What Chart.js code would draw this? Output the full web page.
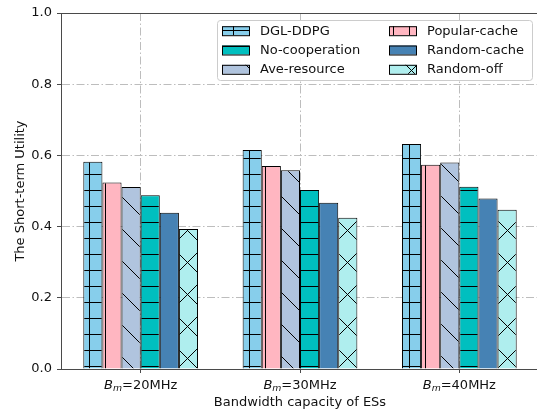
<!DOCTYPE html>
<html>
<head>
<meta charset="utf-8">
<script src="https://cdn.jsdelivr.net/npm/chart.js@4.4.1/dist/chart.umd.min.js"></script>
<style>
  html, body { margin: 0; padding: 0; background: #fff; }
  #wrap { width: 539px; height: 410px; position: relative; }
</style>
</head>
<body>
<div id="wrap"><canvas id="chart"></canvas></div>
<script>
// bandwidth per ES (x categories)
const categories = ['20MHz', '30MHz', '40MHz'];

const dglDdpg = [0.582, 0.615, 0.632];
const popularCache = [0.524, 0.570, 0.574];
const aveResource = [0.511, 0.558, 0.580];
const noCooperation = [0.488, 0.503, 0.512];
const randomCache = [0.439, 0.467, 0.479];
const randomOff = [0.393, 0.425, 0.447];

const seriesNames = ['DGL-DDPG', 'Popular-cache', 'Ave-resource', 'No-cooperation', 'Random-cache', 'Random-off'];
const seriesValues = [dglDdpg, popularCache, aveResource, noCooperation, randomCache, randomOff];
const seriesColors = ['#87ceeb', '#ffb6c1', '#b0c4de', '#00bfbf', '#4682b4', '#afeeee'];
const seriesHatch = ['+', '|', '\\', '-', '', 'x'];

// legend is filled column by column
const legendOrder = ['DGL-DDPG', 'No-cooperation', 'Ave-resource', 'Popular-cache', 'Random-cache', 'Random-off'];

const yTicks = [0, 0.2, 0.4, 0.6, 0.8, 1.0];

const FONT = '"DejaVu Sans", sans-serif';
const canvas = document.getElementById('chart');
const ctx = canvas.getContext('2d');

function hatch(bg, kind) {
  const c = document.createElement('canvas');
  c.width = 32; c.height = 32;
  const g = c.getContext('2d');
  g.fillStyle = bg;
  g.fillRect(0, 0, 32, 32);
  g.strokeStyle = '#000';
  g.lineWidth = 1;
  g.beginPath();
  if (kind === '-' || kind === '+') {
    [14.5, 30.5].forEach(y => { g.moveTo(0, y); g.lineTo(32, y); });
  }
  if (kind === '|' || kind === '+') {
    [9.5, 25.5].forEach(x => { g.moveTo(x, 0); g.lineTo(x, 32); });
  }
  if (kind === '\\' || kind === 'x') {
    const c0 = 21;
    for (let k = -2; k <= 2; k++) { g.moveTo(c0 + 32 * k - 10, -10); g.lineTo(c0 + 32 * k + 42, 42); }
  }
  if (kind === 'x') {
    const d = 2;
    for (let k = -2; k <= 2; k++) { g.moveTo(d + 32 * k + 10, -10); g.lineTo(d + 32 * k - 42, 42); }
  }
  g.stroke();
  return ctx.createPattern(c, 'repeat');
}

const gridDash = [8, 2.5, 1.5, 2.5];
const gridColor = '#bdbdbd';
const axisColor = '#4a4a4a';

const extras = {
  id: 'extras',
  afterDraw(chart) {
    const { ctx: g, chartArea: a, scales: { x } } = chart;
    g.save();
    // the figure is cut just before the right spine
    g.fillStyle = '#fff';
    g.fillRect(537, 0, chart.width - 537, chart.height);
    // top spine
    g.strokeStyle = axisColor;
    g.lineWidth = 1;
    g.beginPath();
    g.moveTo(a.left, a.top + 0.5); g.lineTo(537, a.top + 0.5);
    g.stroke();

    // x tick labels: B_m=..MHz
    g.fillStyle = '#111';
    g.textBaseline = 'alphabetic';
    categories.forEach((cat, i) => {
      const px = x.getPixelForTick(i);
      const parts = [
        { t: 'B', f: 'italic 13px ' + FONT, dy: 0 },
        { t: 'm', f: 'italic 9.3px ' + FONT, dy: 2.5 },
        { t: '=' + cat, f: '13px ' + FONT, dy: 0 }
      ];
      let w = 0;
      parts.forEach(p => { g.font = p.f; p.w = g.measureText(p.t).width; w += p.w; });
      let cx = px - w / 2;
      parts.forEach(p => {
        g.font = p.f;
        g.textAlign = 'left';
        g.fillText(p.t, cx, 388.5 + p.dy);
        cx += p.w;
      });
    });

    // legend
    const box = { x: 217, y: 20, w: 315, h: 60 };
    g.fillStyle = 'rgba(255,255,255,0.9)';
    g.strokeStyle = '#cccccc';
    g.lineWidth = 1;
    g.beginPath();
    g.roundRect(box.x + 0.5, box.y + 0.5, box.w, box.h, 3);
    g.fill();
    g.stroke();
    const rows = [30.7, 50, 69.3];
    const cols = [{ sx: 222, tx: 260 }, { sx: 389, tx: 427 }];
    legendOrder.forEach((name, i) => {
      const ds = chart.data.datasets.find(d => d.label === name);
      const col = cols[Math.floor(i / 3)];
      const cy = rows[i % 3];
      g.fillStyle = ds.backgroundColor;
      g.fillRect(col.sx, cy - 4.5, 27, 9);
      g.strokeStyle = '#000';
      g.lineWidth = 1;
      g.strokeRect(col.sx + 0.5, cy - 4.5 + 0.5, 27, 9);
      g.fillStyle = '#111';
      g.font = '13px ' + FONT;
      g.textAlign = 'left';
      g.textBaseline = 'middle';
      g.fillText(name, col.tx, cy + 0.5);
    });
    g.restore();
  }
};

new Chart(ctx, {
  type: 'bar',
  data: {
    labels: categories,
    datasets: seriesNames.map((name, i) => ({
      label: name,
      data: seriesValues[i],
      backgroundColor: hatch(seriesColors[i], seriesHatch[i]),
      borderColor: '#000',
      borderWidth: 1,
      categoryPercentage: 0.72,
      barPercentage: 1.0
    }))
  },
  options: {
    responsive: true,
    maintainAspectRatio: false,
    animation: false,
    events: [],
    layout: { padding: { top: 13, right: 0, left: 0, bottom: 0 } },
    plugins: { legend: { display: false }, tooltip: { enabled: false } },
    scales: {
      x: {
        grid: { offset: false, color: gridColor, lineWidth: 1, tickLength: 4, tickColor: axisColor, tickWidth: 1 },
        border: { color: axisColor, width: 1, dash: gridDash },
        ticks: { display: false },
        title: { display: true, text: 'Bandwidth capacity of ESs', color: '#111', font: { family: FONT, size: 13 }, padding: 0 },
        afterFit: s => { s.height = 41; }
      },
      y: {
        min: 0,
        max: 1,
        afterBuildTicks: s => { s.ticks = yTicks.map(v => ({ value: v })); },
        grid: {
          color: c => (c.tick && (c.tick.value === 0 || c.tick.value === 1)) ? 'rgba(0,0,0,0)' : gridColor,
          lineWidth: 1, tickLength: 4, tickColor: axisColor, tickWidth: 1
        },
        border: { color: axisColor, width: 1, dash: gridDash },
        ticks: { color: '#111', padding: 5, font: { family: FONT, size: 13 }, callback: v => Number(v).toFixed(1) },
        title: { display: true, text: 'The Short-term Utility', color: '#111', font: { family: FONT, size: 13 }, padding: { top: 13, bottom: 0 } },
        afterFit: s => { s.width = 61; }
      }
    }
  },
  plugins: [extras]
});
</script>
</body>
</html>
